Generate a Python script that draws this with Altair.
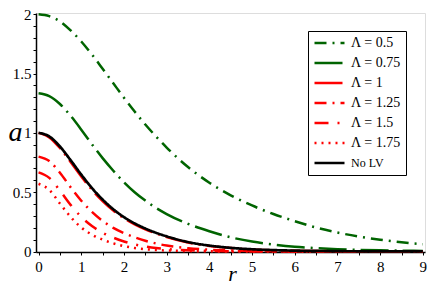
import altair as alt
import pandas as pd

# radial coordinate samples
r = [0, 0.25, 0.5, 0.75, 1, 1.25, 1.5, 1.75, 2, 2.25, 2.5, 2.75, 3,
     3.5, 4, 4.5, 5, 5.5, 6, 6.5, 7, 7.5, 8, 8.5, 9]

# a(r)
a_05 = [2.000, 1.984, 1.940, 1.864, 1.770, 1.660, 1.540, 1.418, 1.296, 1.180, 1.070, 0.970, 0.876,
        0.712, 0.580, 0.474, 0.388, 0.316, 0.256, 0.202, 0.160, 0.126, 0.100, 0.078, 0.062]
a_075 = [1.333, 1.309, 1.243, 1.144, 1.027, 0.904, 0.787, 0.681, 0.584, 0.500, 0.429, 0.368, 0.316,
         0.233, 0.171, 0.120, 0.084, 0.059, 0.041, 0.029, 0.020, 0.014, 0.010, 0.007, 0.005]
a_1 = [1.000, 0.962, 0.872, 0.755, 0.632, 0.520, 0.425, 0.345, 0.281, 0.229, 0.187, 0.152, 0.123,
       0.076, 0.047, 0.029, 0.018, 0.011, 0.007, 0.0045, 0.003, 0.002, 0.0011, 0.0007, 0.0004]
a_125 = [0.800, 0.762, 0.664, 0.542, 0.428, 0.334, 0.258, 0.199, 0.155, 0.120, 0.091, 0.068, 0.050,
         0.028, 0.015, 0.0084, 0.0048, 0.003, 0.002, 0.001, 0.0006, 0.0004, 0.0002, 0.0001, 0.0001]
a_15 = [0.667, 0.621, 0.513, 0.393, 0.292, 0.215, 0.158, 0.117, 0.085, 0.060, 0.042, 0.029, 0.021,
        0.010, 0.005, 0.0025, 0.0012, 0.0006, 0.0003, 0.0002, 0.0001, 0.0001, 0.0001, 0.0, 0.0]
a_175 = [0.571, 0.520, 0.405, 0.292, 0.203, 0.142, 0.100, 0.069, 0.046, 0.030, 0.020, 0.013, 0.0086,
         0.0039, 0.0017, 0.0008, 0.0004, 0.0002, 0.0001, 0.0001, 0.0, 0.0, 0.0, 0.0, 0.0]
a_nolv = [1.000, 0.970, 0.885, 0.770, 0.648, 0.535, 0.438, 0.356, 0.290, 0.237, 0.194, 0.158, 0.128,
          0.080, 0.050, 0.031, 0.019, 0.012, 0.0075, 0.005, 0.003, 0.002, 0.0012, 0.0008, 0.0005]

labels = ["Λ = 0.5", "Λ = 0.75", "Λ = 1", "Λ = 1.25", "Λ = 1.5", "Λ = 1.75", "No LV"]
series = [a_05, a_075, a_1, a_125, a_15, a_175, a_nolv]
colors = ["#006400", "#006400", "#ff0000", "#ff0000", "#ff0000", "#ff0000", "#000000"]
dashes = [[12, 6, 2, 6], [28, 6, 2, 6], [28, 6, 2, 6], [12, 6, 2, 6], [14, 9, 2, 9], [2, 5], [1, 0]]

rows = []
for lab, vals in zip(labels, series):
    for rv, av in zip(r, vals):
        rows.append({"r": rv, "a": av, "series": lab})
df = pd.DataFrame(rows)

FONT = "Liberation Serif, Times New Roman, DejaVu Serif, serif"

x_ticks = [i * 0.5 for i in range(19)]
y_ticks = [round(i * 0.1, 1) for i in range(21)]

legend = alt.Legend(
    title=None, orient="none", legendX=272, legendY=18,
    strokeColor="black", fillColor="white", padding=5,
    symbolType="stroke", symbolSize=900, symbolStrokeWidth=2.5,
    clipHeight=14, rowPadding=6, labelOffset=5,
    labelFont=FONT, labelColor="black",
    labelFontSize={"expr": "datum.value == 'No LV' ? 12 : 14"},
    labelExpr="datum.label + '\u00a0\u00a0'",
)

x_enc = alt.X("r:Q",
              scale=alt.Scale(domain=[-0.06, 9.05], nice=False, zero=False),
              axis=alt.Axis(values=x_ticks, format=".1~f",
                            labelExpr="datum.value % 1 == 0 ? datum.label : ''",
                            grid=False, tickSize=3, tickColor="black",
                            domainColor="black", domainWidth=1.5,
                            labelFont=FONT, labelFontSize=15, labelColor="black",
                            labelPadding=4,
                            title="r", titleFont=FONT, titleFontStyle="italic",
                            titleFontWeight="normal", titleFontSize=22,
                            titleColor="black", titleX=196, titleY=28,
                            titleBaseline="alphabetic", titleAlign="center"))
y_enc = alt.Y("a:Q",
              scale=alt.Scale(domain=[-0.004, 2.01], nice=False, zero=False),
              axis=alt.Axis(values=y_ticks, format=".1~f",
                            labelExpr="round(datum.value * 10) % 5 == 0 ? datum.label : ''",
                            grid=False, tickSize=3, tickColor="black",
                            domainColor="black", domainWidth=1.5,
                            labelFont=FONT, labelFontSize=15, labelColor="black",
                            labelPadding=2,
                            title="a", titleFont=FONT, titleFontStyle="italic",
                            titleFontWeight="normal", titleFontSize=28,
                            titleColor="black", titleAngle=0, titleX=-21, titleY=127,
                            titleBaseline="alphabetic", titleAlign="center"))
color_enc = alt.Color("series:N", scale=alt.Scale(domain=labels, range=colors), legend=legend)
dash_enc = alt.StrokeDash("series:N", scale=alt.Scale(domain=labels, range=dashes), legend=legend)

base = alt.Chart(df)
colored = base.transform_filter("datum.series != 'No LV'").mark_line(
    strokeWidth=2.5, interpolate="monotone").encode(
    x=x_enc, y=y_enc, color=color_enc, strokeDash=dash_enc, detail="series:N")
black = base.transform_filter("datum.series == 'No LV'").mark_line(
    strokeWidth=2.7, interpolate="monotone").encode(
    x=x_enc, y=y_enc, color=color_enc, strokeDash=dash_enc)

chart = alt.layer(colored, black).properties(
    width=389, height=239,
    autosize=alt.AutoSizeParams(type="none"),
    padding={"left": 28, "top": 5, "right": 3, "bottom": 32},
).configure_view(stroke="#333333", strokeWidth=1.5).configure(background="white")

chart.save("out.html", embed_options={"renderer": "svg", "actions": False})
